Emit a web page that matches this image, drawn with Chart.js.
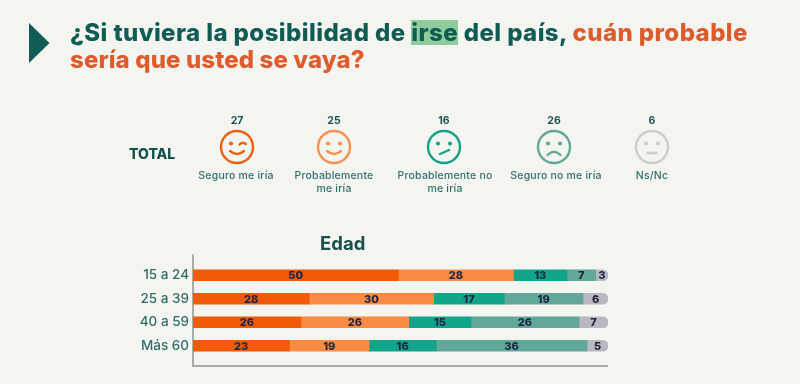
<!DOCTYPE html>
<html lang="es"><head><meta charset="utf-8">
<style>
html,body{margin:0;padding:0;background:#f4f5f0;width:800px;height:384px;overflow:hidden;font-family:Inter,sans-serif}
#c{position:absolute;left:0;top:0}
.t{position:absolute;white-space:nowrap;letter-spacing:0}
.title{left:70px;font-weight:800;font-size:24px;line-height:27px;color:#0f5c55}
.o{color:#df5b2c}.hl{background:#8fcb9b;display:inline-block;line-height:25px;height:25px}
.num{position:absolute;font-weight:700;font-size:10.5px;color:#17514d;transform:translateX(-50%);top:113.5px}
.lab{position:absolute;font-weight:500;font-size:10.5px;letter-spacing:.2px;line-height:13px;color:#2f6f69;transform:translateX(-50%);text-align:center;top:168.5px;white-space:nowrap}
svg.ic{position:absolute;top:129px;width:36px;height:36px;margin-left:-18px}
</style></head><body>
<canvas id="c" width="800" height="384"></canvas>
<svg style="position:absolute;left:0;top:0" width="60" height="70"><polygon points="29,23 49.5,43 29,63" fill="#0f5c55"/></svg>
<div class="t title" style="top:19px;letter-spacing:.42px">¿Si tuviera la posibilidad de <span class="hl">irse</span> del país, <span class="o">cuán probable</span></div>
<div class="t title o" style="top:46px;letter-spacing:.12px">sería que usted se vaya?</div>
<div class="t" style="left:129px;top:145px;font-weight:800;font-size:14px;color:#17514d">TOTAL</div>
<div class="t" style="left:320px;top:232px;font-weight:700;font-size:18.5px;color:#17514d">Edad</div>
<div id="tot"></div>
<script src="https://cdn.jsdelivr.net/npm/chart.js@4/dist/chart.umd.min.js"></script>
<script>
const categories=["15 a 24","25 a 39","40 a 59","Más 60"];
const seriesNames=["Seguro me iría","Probablemente me iría","Probablemente no me iría","Seguro no me iría","Ns/Nc"];
const seguroSi=[50,28,26,23];
const probableSi=[28,30,26,19];
const probableNo=[13,17,15,16];
const seguroNo=[7,19,26,36];
const nsNc=[3,6,7,5];
const totalValues=[27,25,16,26,6];
const totalLabels=[["Seguro me iría"],["Probablemente","me iría"],["Probablemente no","me iría"],["Seguro no me iría"],["Ns/Nc"]];
const colors=["#f25a07","#f98b42","#12a58a","#62a898","#b9b7c0"];
const iconX=[237,334,444,554,652];
const labX=[236,334,445,556,652];
const raw=[seguroSi,probableSi,probableNo,seguroNo,nsNc];
const rowSum=categories.map((_,i)=>raw.reduce((s,a)=>s+a[i],0));

const mouths=[
 '<path d="M11 22 Q18 28 25 22" />',
 '<path d="M11 22 Q18 28 25 22" />',
 '<path d="M14 25 L23 21" />',
 '<path d="M11.5 26 Q18 19.5 24.5 26" />',
 '<path d="M13.5 24 H22.5" />'];
const eyes=[
 '<circle cx="12" cy="14.5" r="2.1" class="f"/><path d="M20.5 15.5 Q23.5 12 27 15"/>',
 '<circle cx="12" cy="14.5" r="2.1" class="f"/><circle cx="24" cy="14.5" r="2.1" class="f"/>',
 '<circle cx="12" cy="14.5" r="2.1" class="f"/><circle cx="24" cy="14.5" r="2.1" class="f"/>',
 '<circle cx="12" cy="14.5" r="2.1" class="f"/><circle cx="24" cy="14.5" r="2.1" class="f"/>',
 '<circle cx="12" cy="14.5" r="2.1" class="f"/><circle cx="24" cy="14.5" r="2.1" class="f"/>'];
const strokeCols=["#ef5f12","#f69150","#16a285","#62a898","#cfccc4"];
let html="";
totalValues.forEach((v,i)=>{
  html+=`<div class="num" style="left:${iconX[i]}px">${v}</div>`;
  html+=`<svg class="ic" viewBox="0 0 36 36" style="left:${iconX[i]}px" fill="none" stroke="${strokeCols[i]}" stroke-width="2.4" stroke-linecap="round"><circle cx="18" cy="18" r="16"/>${eyes[i].replace(/class="f"/g,`fill="${strokeCols[i]}" stroke="none"`)}${mouths[i]}</svg>`;
  html+=`<div class="lab" style="left:${labX[i]}px">${totalLabels[i].join("<br>")}</div>`;
});
document.getElementById("tot").innerHTML=html;

const axisLines={id:"axisLines",beforeDatasetsDraw(ch){
  const {ctx,chartArea:a}=ch;ctx.save();ctx.strokeStyle="#a9aca6";ctx.lineWidth=2;
  ctx.beginPath();ctx.moveTo(a.left,a.top-9);ctx.lineTo(a.left,a.bottom+8.5);ctx.lineTo(a.right,a.bottom+8.5);ctx.stroke();ctx.restore();
}};
const barLabels={id:"barLabels",afterDatasetsDraw(ch){
  const {ctx}=ch;ctx.save();ctx.fillStyle="#1d2545";ctx.font="800 11px Inter,sans-serif";ctx.textAlign="center";ctx.textBaseline="middle";
  ch.data.datasets.forEach((d,di)=>{ch.getDatasetMeta(di).data.forEach((el,i)=>{
    ctx.fillText(String(raw[di][i]),(el.base+el.x)/2,el.y+0.5);
  });});ctx.restore();
}};
new Chart(document.getElementById("c"),{
 type:"bar",
 data:{labels:categories,datasets:raw.map((a,di)=>({
   label:seriesNames[di],
   data:a.map((v,i)=>v/rowSum[i]*100),
   backgroundColor:colors[di],
   barThickness:11,
   borderSkipped:false,
   borderRadius:di===4?{topLeft:0,bottomLeft:0,topRight:6,bottomRight:6}:0
 }))},
 options:{indexAxis:"y",responsive:false,animation:false,
  layout:{padding:{left:0,right:192,top:263.5,bottom:26.5}},
  plugins:{legend:{display:false},tooltip:{enabled:false}},
  scales:{
   x:{stacked:true,min:0,max:100,display:false},
   y:{stacked:true,grid:{display:false,drawTicks:false},border:{display:false},
      afterFit(s){s.width=193;},
      ticks:{color:"#2f6f69",padding:4,font:{family:"Inter,sans-serif",size:13.5,weight:"500"}}}
  }},
 plugins:[axisLines,barLabels]
});
</script></body></html>
